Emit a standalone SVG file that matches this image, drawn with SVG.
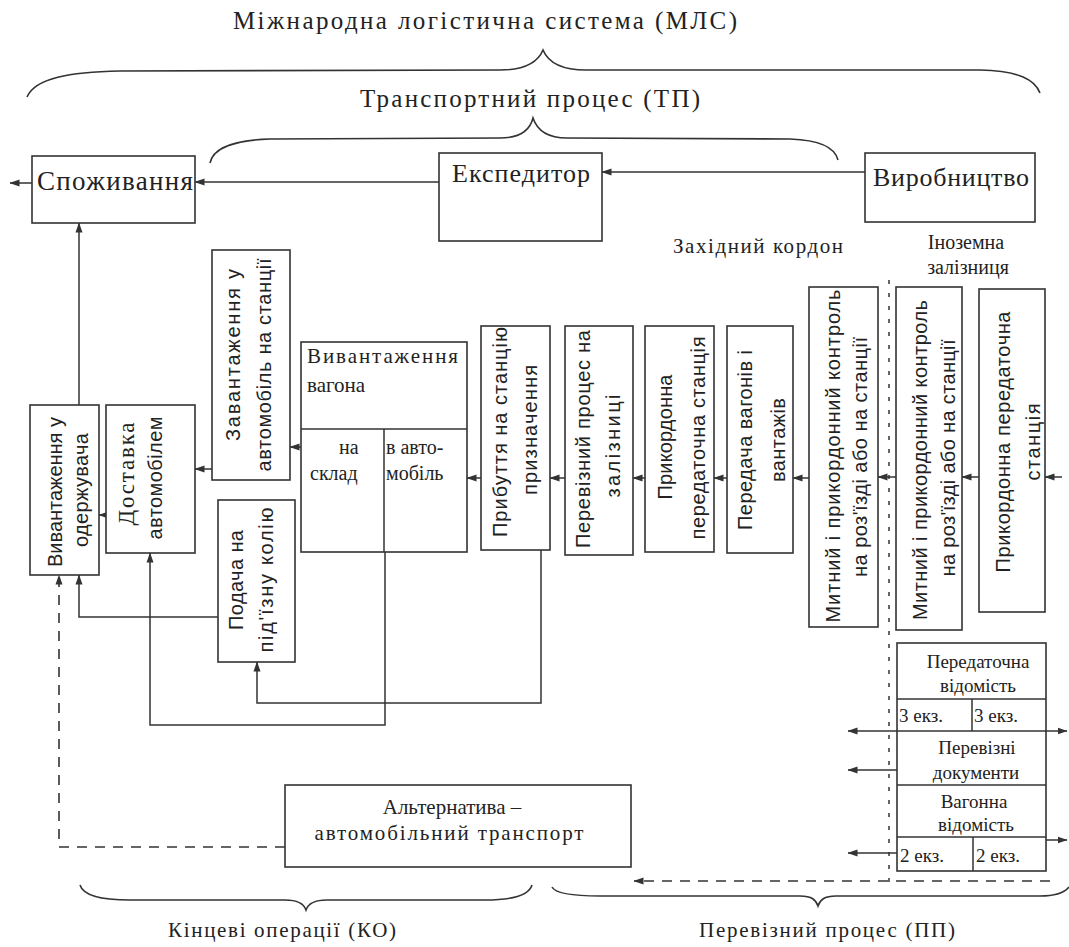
<svg xmlns="http://www.w3.org/2000/svg" width="1069" height="947" viewBox="0 0 1069 947">
<defs>
<marker id="ah" markerWidth="10" markerHeight="8" refX="9.5" refY="4" orient="auto" markerUnits="userSpaceOnUse"><path d="M0,0.5 L10,4 L0,7.5 z" fill="#333"/></marker>
<style>
.bx{fill:#fff;stroke:#333;stroke-width:1.6}
.ln{fill:none;stroke:#333;stroke-width:1.5}
.ds{fill:none;stroke:#333;stroke-width:1.6;stroke-dasharray:10 8}
.dt{fill:none;stroke:#333;stroke-width:1.5;stroke-dasharray:4 9}
.br{fill:none;stroke:#333;stroke-width:1.6}
.s{font-family:"Liberation Serif","Times New Roman",serif;fill:#222}
.m{text-anchor:middle}
.v{font-family:"Liberation Sans",Arial,sans-serif;fill:#222;font-size:20px;text-anchor:middle}
</style>
</defs>
<rect width="1069" height="947" fill="#fff"/>

<g id="labels">
<text class="s m" x="485" y="29" font-size="25" textLength="504">Міжнародна логістична система (МЛС)</text>
<path class="br" d="M27,97 C35,78 70,72 120,71 L500,70 C525,70 538,62 543,50 C548,62 561,70 586,70 L980,70 C1020,71 1035,80 1040,93"/>
<text class="s m" x="530" y="107" font-size="25" textLength="340">Транспортний процес (ТП)</text>
<path class="br" d="M210,163 C213,148 235,140 270,139 L500,138 C520,138 530,130 533,118 C537,130 547,138 567,138 L790,139 C820,140 835,148 838,160"/>
<text class="s m" x="758" y="253" font-size="21" textLength="170">Західний кордон</text>
<text class="s m" x="966" y="249" font-size="20">Іноземна</text>
<text class="s m" x="968" y="274" font-size="20">залізниця</text>
<path class="br" d="M80,885 C83,895 100,900 130,900 L285,900 C298,900 304,904 306,910 C308,904 314,900 327,900 L485,900 C515,900 529,895 532,885"/>
<text class="s m" x="282" y="937" font-size="21" textLength="228">Кінцеві операції (КО)</text>
<path class="br" d="M552,887 C555,893 570,896 600,896 L800,896 C812,896 816,900 818,906 C820,900 824,896 836,896 L1040,896 C1055,896 1065,892 1069,887"/>
<text class="s m" x="827" y="937" font-size="21" textLength="256">Перевізний процес (ПП)</text>
<line class="dt" x1="889" y1="280" x2="889" y2="886"/>
</g>

<g id="connectors">
<line class="ln" x1="865" y1="172" x2="602" y2="172" marker-end="url(#ah)"/>
<line class="ln" x1="439" y1="182" x2="195" y2="182" marker-end="url(#ah)"/>
<line class="ln" x1="32" y1="183" x2="10" y2="183" marker-end="url(#ah)"/>
<line class="ln" x1="79" y1="405" x2="79" y2="223" marker-end="url(#ah)"/>
<line class="ln" x1="106" y1="515" x2="99" y2="515" marker-end="url(#ah)"/>
<line class="ln" x1="212" y1="469" x2="195" y2="469" marker-end="url(#ah)"/>
<line class="ln" x1="302" y1="447" x2="290" y2="447" marker-end="url(#ah)"/>
<line class="ln" x1="482" y1="478" x2="467" y2="478" marker-end="url(#ah)"/>
<line class="ln" x1="565" y1="478" x2="550" y2="478" marker-end="url(#ah)"/>
<line class="ln" x1="645" y1="478" x2="633" y2="478" marker-end="url(#ah)"/>
<line class="ln" x1="727" y1="478" x2="714" y2="478" marker-end="url(#ah)"/>
<line class="ln" x1="809" y1="478" x2="793" y2="478" marker-end="url(#ah)"/>
<line class="ln" x1="896" y1="477" x2="878" y2="477" marker-end="url(#ah)"/>
<line class="ln" x1="979" y1="477" x2="962" y2="477" marker-end="url(#ah)"/>
<line class="ln" x1="1062" y1="477" x2="1045" y2="477" marker-end="url(#ah)"/>
<polyline class="ln" points="218,617 79,617 79,575" marker-end="url(#ah)"/>
<polyline class="ln" points="385,552 385,725 150,725 150,553" marker-end="url(#ah)"/>
<polyline class="ln" points="541,550 541,703 257,703 257,662" marker-end="url(#ah)"/>
<polyline class="ds" points="285,847 59,847 59,575" marker-end="url(#ah)"/>
<line class="ds" x1="1050" y1="881" x2="634" y2="881" marker-end="url(#ah)"/>
<line class="ln" x1="897" y1="731" x2="848" y2="731" marker-end="url(#ah)"/>
<line class="ln" x1="1046" y1="731" x2="1067" y2="731" marker-end="url(#ah)"/>
<line class="ln" x1="897" y1="770" x2="848" y2="770" marker-end="url(#ah)"/>
<line class="ln" x1="1046" y1="840" x2="1067" y2="840" marker-end="url(#ah)"/>
<line class="ln" x1="897" y1="853" x2="848" y2="853" marker-end="url(#ah)"/>
</g>

<g id="spozhyvannia">
<rect class="bx" x="32" y="156" width="163" height="67"/>
<text class="s" x="37" y="190" font-size="27" textLength="156">Споживання</text>
</g>
<g id="ekspedytor">
<rect class="bx" x="439" y="153" width="163" height="88"/>
<text class="s" x="452" y="182" font-size="26" textLength="138">Експедитор</text>
</g>
<g id="vyrobnytstvo">
<rect class="bx" x="865" y="153" width="170" height="69"/>
<text class="s" x="873" y="186" font-size="26" textLength="156">Виробництво</text>
</g>

<g id="vyvantazhennia-oderzhuvacha">
<rect class="bx" x="30" y="405" width="69" height="170"/>
<text class="v" transform="translate(62,492) rotate(-90)" textLength="150">Вивантаження у</text>
<text class="v" transform="translate(88,490) rotate(-90)" textLength="114">одержувача</text>
</g>
<g id="dostavka">
<rect class="bx" x="106" y="405" width="89" height="148"/>
<text class="s m" font-size="23" transform="translate(134,474) rotate(-90)" textLength="103">Доставка</text>
<text class="v" transform="translate(162,478) rotate(-90)" textLength="123">автомобілем</text>
</g>
<g id="zavantazhennia">
<rect class="bx" x="212" y="250" width="78" height="230"/>
<text class="v" transform="translate(240,355) rotate(-90)" textLength="172">Завантаження у</text>
<text class="v" transform="translate(271,365) rotate(-90)" textLength="213">автомобіль на станції</text>
</g>
<g id="podacha">
<rect class="bx" x="218" y="500" width="77" height="162"/>
<text class="v" transform="translate(243,580) rotate(-90)" textLength="100">Подача на</text>
<text class="v" transform="translate(273,580) rotate(-90)" textLength="145">під'їзну колію</text>
</g>
<g id="vyvantazhennia-vagona">
<rect class="bx" x="301" y="342" width="166" height="210"/>
<line class="ln" x1="301" y1="429" x2="467" y2="429"/>
<line class="ln" x1="384" y1="429" x2="384" y2="552"/>
<text class="s" x="307" y="363" font-size="21" textLength="151">Вивантаження</text>
<text class="s" x="307" y="392" font-size="21">вагона</text>
<text class="s" x="339" y="454" font-size="20">на</text>
<text class="s" x="310" y="480" font-size="20">склад</text>
<text class="s" x="386" y="454" font-size="20">в авто-</text>
<text class="s" x="386" y="480" font-size="20">мобіль</text>
</g>
<g id="prybuttia">
<rect class="bx" x="481" y="326" width="69" height="224"/>
<text class="v" transform="translate(507,432) rotate(-90)" textLength="210">Прибуття на станцію</text>
<text class="v" transform="translate(537,430) rotate(-90)" textLength="130">призначення</text>
</g>
<g id="pereviznyi-protses">
<rect class="bx" x="565" y="326" width="68" height="229"/>
<text class="v" transform="translate(590,439) rotate(-90)" textLength="218">Перевізний процес на</text>
<text class="v" transform="translate(620,446) rotate(-90)" textLength="103">залізниці</text>
</g>
<g id="prykordonna-1">
<rect class="bx" x="645" y="326" width="69" height="226"/>
<text class="v" transform="translate(672,437) rotate(-90)" textLength="125">Прикордонна</text>
<text class="v" transform="translate(705,438) rotate(-90)" textLength="203">передаточна станція</text>
</g>
<g id="peredacha">
<rect class="bx" x="727" y="326" width="66" height="227"/>
<text class="v" transform="translate(752,440) rotate(-90)" textLength="180">Передача вагонів і</text>
<text class="v" transform="translate(785,440) rotate(-90)" textLength="84">вантажів</text>
</g>
<g id="mytnyi-1">
<rect class="bx" x="809" y="287" width="69" height="340"/>
<text class="v" transform="translate(840,456) rotate(-90)" textLength="333">Митний і прикордонний контроль</text>
<text class="v" transform="translate(867,457) rotate(-90)" textLength="240">на роз'їзді або на станції</text>
</g>
<g id="mytnyi-2">
<rect class="bx" x="896" y="287" width="66" height="343"/>
<text class="v" transform="translate(927,460) rotate(-90)" textLength="320">Митний і прикордонний контроль</text>
<text class="v" transform="translate(955,458) rotate(-90)" textLength="237">на роз'їзді або на станції</text>
</g>
<g id="prykordonna-2">
<rect class="bx" x="979" y="289" width="66" height="323"/>
<text class="v" transform="translate(1010,442) rotate(-90)" textLength="261">Прикордонна передаточна</text>
<text class="v" transform="translate(1040,442) rotate(-90)" textLength="77">станція</text>
</g>

<g id="dokumenty">
<rect class="bx" x="897" y="643" width="149" height="228"/>
<line class="ln" x1="897" y1="699" x2="1046" y2="699"/>
<line class="ln" x1="897" y1="731" x2="1046" y2="731"/>
<line class="ln" x1="897" y1="785" x2="1046" y2="785"/>
<line class="ln" x1="897" y1="837" x2="1046" y2="837"/>
<line class="ln" x1="972" y1="699" x2="972" y2="731"/>
<line class="ln" x1="973" y1="837" x2="973" y2="871"/>
<text class="s m" x="978" y="668" font-size="19">Передаточна</text>
<text class="s m" x="978" y="692" font-size="19">відомість</text>
<text class="s" x="899" y="722" font-size="19">3 екз.</text>
<text class="s" x="974" y="722" font-size="19">3 екз.</text>
<text class="s m" x="977" y="754" font-size="19">Перевізні</text>
<text class="s m" x="976" y="779" font-size="19">документи</text>
<text class="s m" x="974" y="808" font-size="19">Вагонна</text>
<text class="s m" x="976" y="831" font-size="19">відомість</text>
<text class="s" x="900" y="862" font-size="19">2 екз.</text>
<text class="s" x="976" y="862" font-size="19">2 екз.</text>
</g>

<g id="alternatyva">
<rect class="bx" x="285" y="785" width="346" height="82"/>
<text class="s m" x="452" y="814" font-size="21">Альтернатива –</text>
<text class="s m" x="449" y="840" font-size="21" textLength="269">автомобільний транспорт</text>
</g>
</svg>
